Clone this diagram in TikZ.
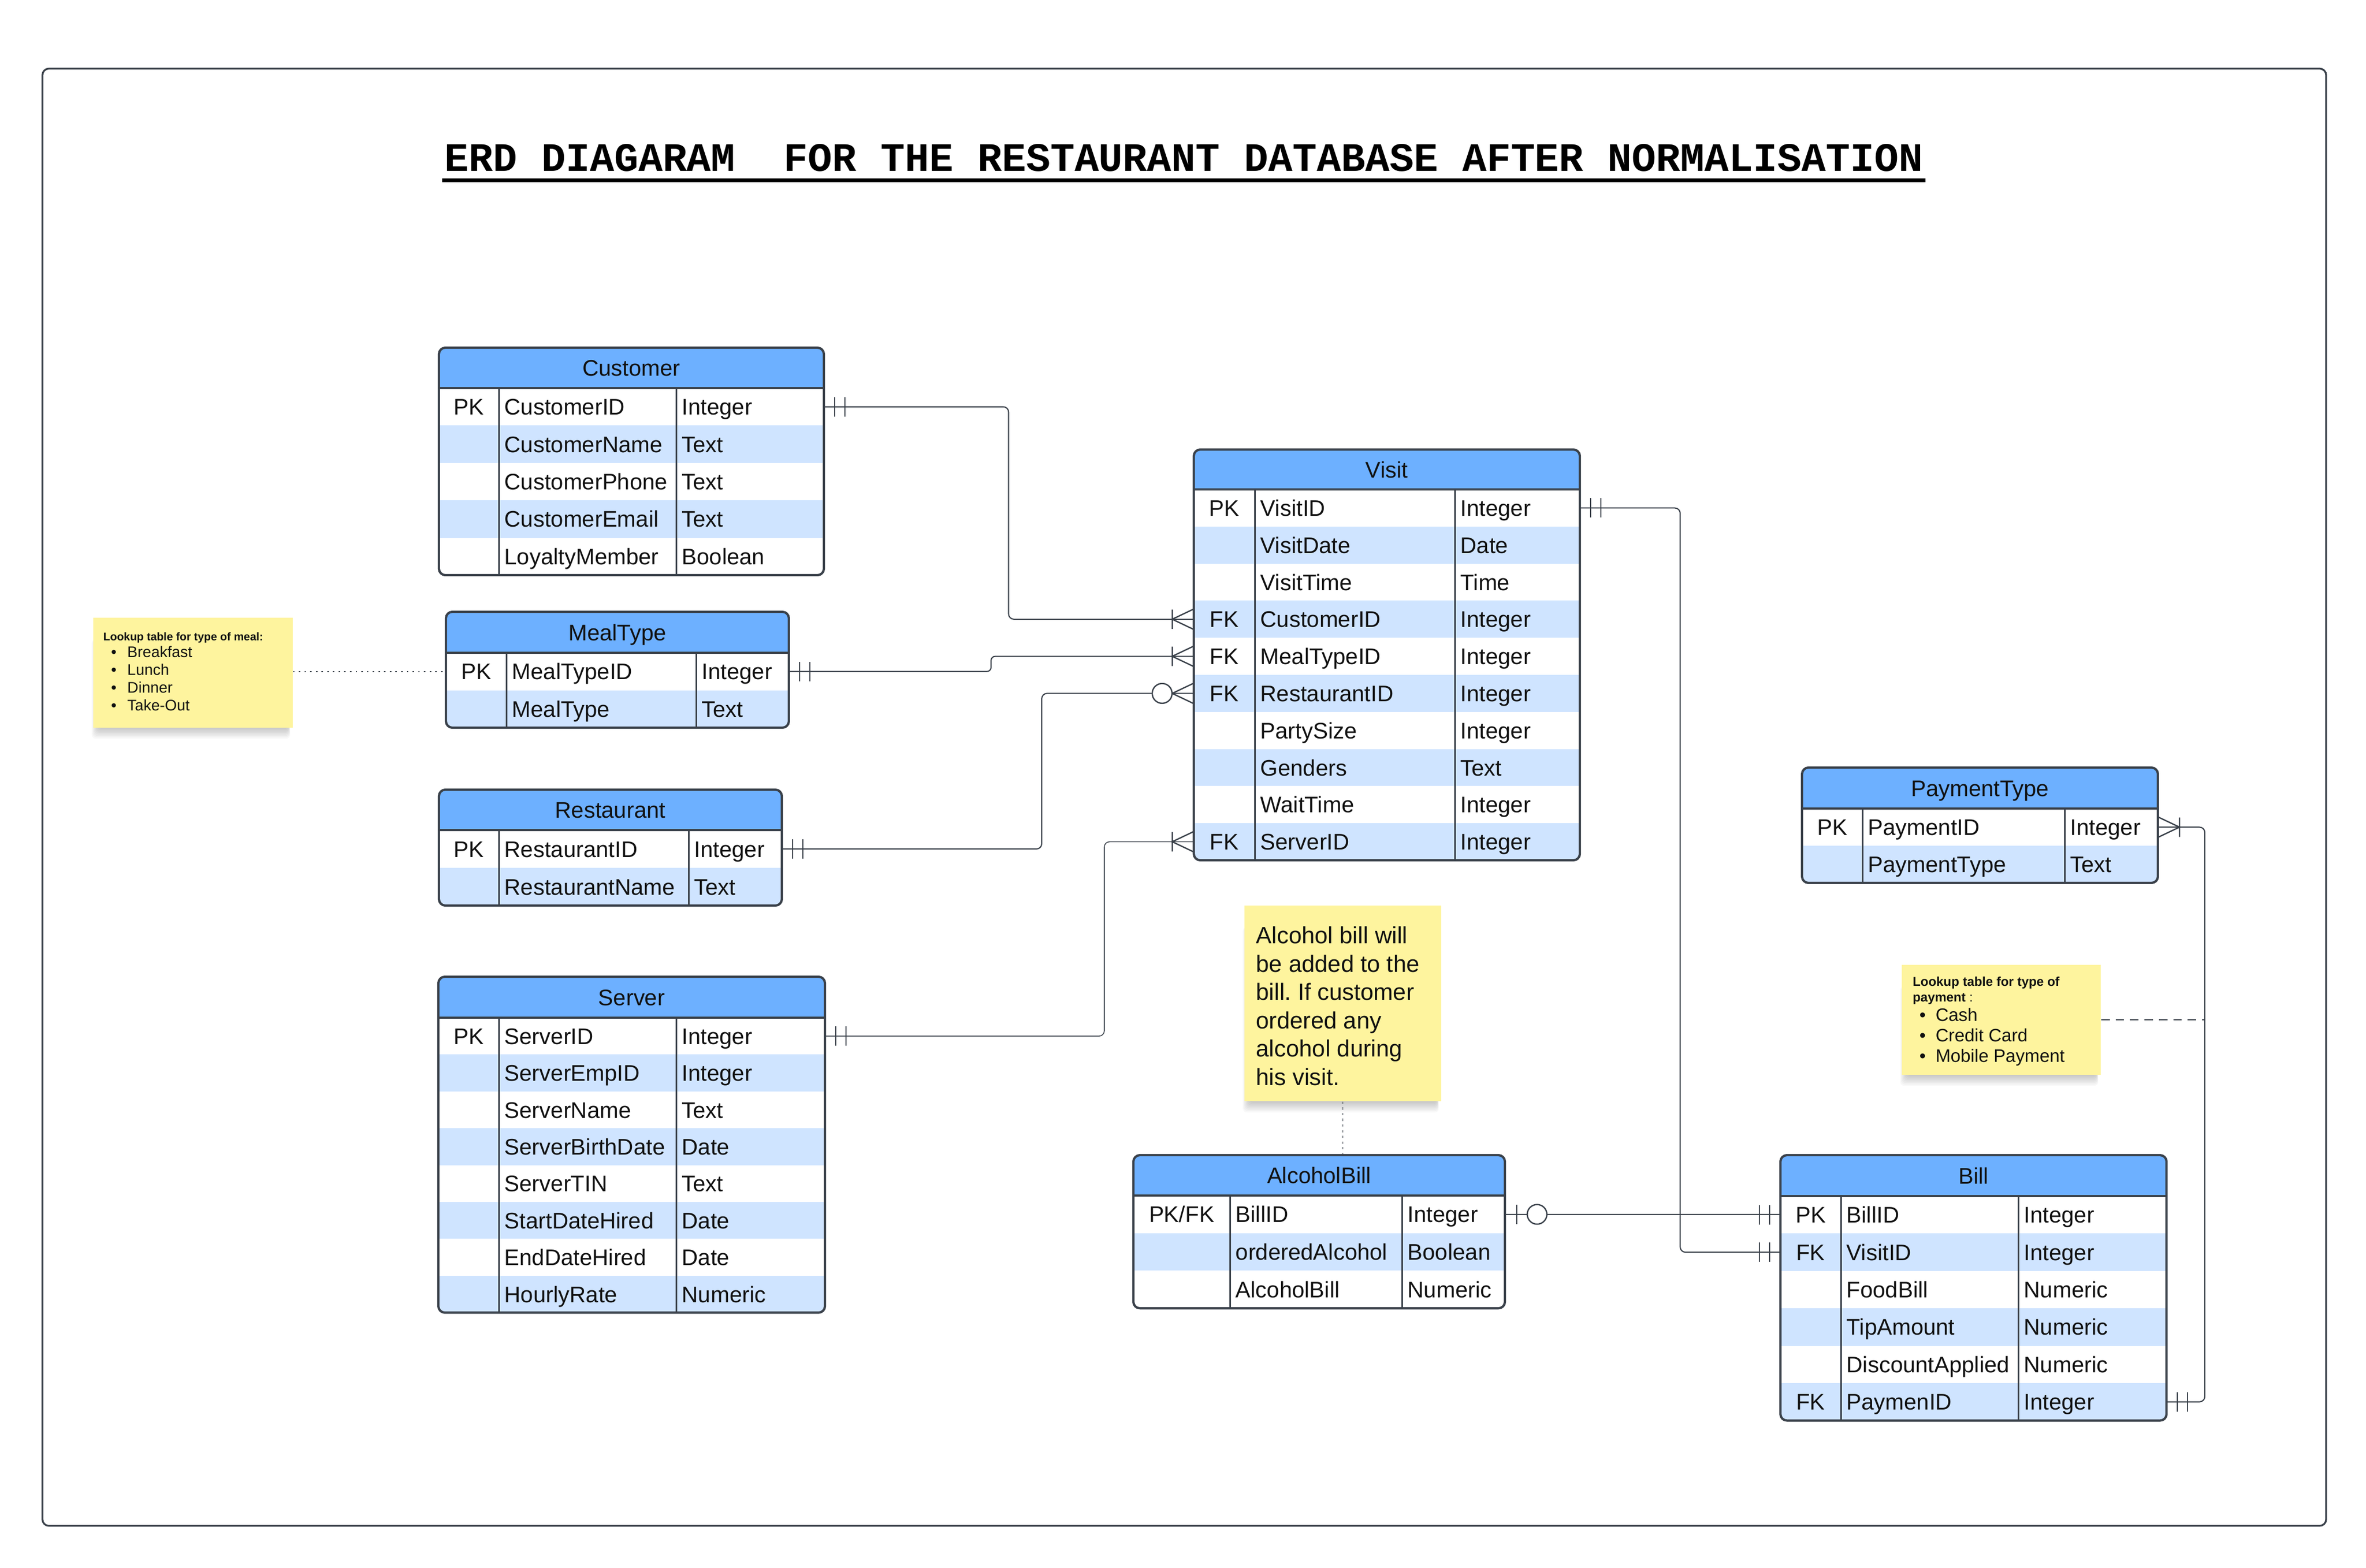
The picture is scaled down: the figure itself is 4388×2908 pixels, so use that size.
\documentclass[tikz,border=0pt]{standalone}
\usepackage{fontspec}
\setmainfont{Liberation Sans}
\newfontfamily\monofont{Liberation Mono}
\usetikzlibrary{calc}
\frenchspacing
\definecolor{hdr}{HTML}{6DB0FF}
\definecolor{alt}{HTML}{CFE4FF}
\definecolor{ink}{HTML}{3A414A}
\definecolor{notey}{HTML}{FEF49E}
\definecolor{txt}{HTML}{111111}
\newcommand\PKFK{PK/FK}
\tikzset{
  celltxt/.style={inner sep=0pt, anchor=base west, text=txt, font=\fontsize{11.9}{14}\selectfont},
  keytxt/.style={inner sep=0pt, anchor=base, text=txt, font=\fontsize{11.9}{14}\selectfont},
  hdrtxt/.style={inner sep=0pt, anchor=base, text=txt, font=\fontsize{11.9}{14}\selectfont},
  tblborder/.style={draw=ink, line width=1.2pt},
  coldiv/.style={draw=ink, line width=0.85pt},
  conn/.style={draw=ink, line width=0.6pt, rounded corners=2.8pt},
  mk/.style={draw=ink, line width=0.7pt},
  notebox/.style={fill=notey, inner sep=0pt, draw=none},
  noteheadA/.style={inner sep=0pt, anchor=base west, text=txt, font=\bfseries\fontsize{5.9}{7}\selectfont},
  noteitemA/.style={inner sep=0pt, anchor=base west, text=txt, font=\fontsize{8.1}{9.5}\selectfont},
  notebulA/.style={inner sep=0pt, anchor=base, text=txt, font=\fontsize{8.1}{9.5}\selectfont},
  noteheadB/.style={inner sep=0pt, anchor=base west, text=txt, font=\bfseries\fontsize{6.8}{8}\selectfont},
  noteitemB/.style={inner sep=0pt, anchor=base west, text=txt, font=\fontsize{9.5}{11}\selectfont},
  notebulB/.style={inner sep=0pt, anchor=base, text=txt, font=\fontsize{9.5}{11}\selectfont},
  notelineC/.style={inner sep=0pt, anchor=base west, text=txt, font=\fontsize{12.4}{15}\selectfont},
  notelink/.style={draw=ink, line width=0.5pt},
}
% #1 name/title, #2 x0, #3 x1, #4 x2, #5 x3, #6 ytop, #7 yhead, #8 row height, #9 rows
\newcommand\erdtable[9]{%
  \foreach \rr [count=\i] in {#9} {\xdef\nrows{\i}}%
  \pgfmathsetmacro\ybot{#7+\nrows*#8}%
  \begin{scope}
    \clip[rounded corners=3.4pt] (#2,#6) rectangle (#5,\ybot);
    \fill[white] (#2,#6) rectangle (#5,\ybot);
    \fill[hdr] (#2,#6) rectangle (#5,#7);
    \foreach \rr [count=\i] in {#9} {%
      \pgfmathsetmacro\ya{#7+(\i-1)*#8}%
      \pgfmathsetmacro\yb{#7+\i*#8}%
      \ifodd\i\else\fill[alt] (#2,\ya) rectangle (#5,\yb);\fi
    }
  \end{scope}
  \draw[coldiv] (#3,#7) -- (#3,\ybot) (#4,#7) -- (#4,\ybot);
  \draw[tblborder] (#2,#7) -- (#5,#7);
  \draw[tblborder, rounded corners=3.4pt] (#2,#6) rectangle (#5,\ybot);
  \node[hdrtxt] (#1) at ({(#2+#5)/2},{(#6+#7)/2+15}) {#1};
  \coordinate (#1-top) at ({(#2+#5)/2},#6);
  \foreach \ka/\kb/\kc [count=\i] in {#9} {%
    \pgfmathsetmacro\yc{#7+(\i-0.5)*#8}%
    \node[keytxt] (#1-k\i) at ({(#2+#3)/2},\yc+15) {\ka};
    \node[celltxt] (#1-n\i) at (#3+10,\yc+15) {\kb};
    \node[celltxt] (#1-t\i) at (#4+10,\yc+15) {\kc};
    \coordinate (#1-L\i) at (#2,\yc);
    \coordinate (#1-R\i) at (#5,\yc);
  }
}
% cardinality markers: #1 end coordinate, #2 direction (+1 right of point, -1 left)
\newcommand\mandone[2]{%
  \draw[mk] ($(#1)+(#2*20,-18)$) -- ++(0,36) ($(#1)+(#2*39,-18)$) -- ++(0,36);}
\newcommand\crowmany[2]{%
  \draw[mk] ($(#1)+(0,-19)$) -- ($(#1)+(#2*40,0)$) -- ($(#1)+(0,19)$)
            ($(#1)+(#2*40,-18)$) -- ++(0,36);}
\newcommand\zeromany[2]{%
  \draw[mk] ($(#1)+(0,-19)$) -- ($(#1)+(#2*40,0)$) -- ($(#1)+(0,19)$);
  \draw[mk, fill=white] ($(#1)+(#2*58.7,0)$) circle[radius=18.4];}
\newcommand\zeroone[2]{%
  \draw[mk] ($(#1)+(#2*22,-18)$) -- ++(0,36);
  \draw[mk, fill=white] ($(#1)+(#2*59.6,0)$) circle[radius=18.2];}
\newcommand\noteshadow[4]{%
  \foreach \s in {1,...,8}{\fill[black,opacity=0.028,rounded corners=2pt] ({#1+10-1.6*\s},{#2+40}) rectangle ({#3-8+0.4*\s},{#4+2.6*\s});}}

\begin{document}
\begin{tikzpicture}[x=0.01cm,y=-0.01cm]
\useasboundingbox (0,0) rectangle (4388,2908);
\fill[white] (0,0) rectangle (4388,2908);
% frame
\draw[ink, line width=0.95pt, rounded corners=3.4pt] (78.7,127.3) rectangle (4314,2830.7);
% title
\node[inner sep=0pt, anchor=base, text=black, font=\monofont\bfseries\fontsize{21.3}{25}\selectfont] (title) at (2195.5,317) {ERD DIAGARAM\ \ FOR THE RESTAURANT DATABASE AFTER NORMALISATION};
\fill[black] (820,331) rectangle (3571,338);

% tables
\erdtable{Customer}{814}{925}{1254}{1528}{645}{720}{69.4}{PK/CustomerID/Integer,/CustomerName/Text,/CustomerPhone/Text,/CustomerEmail/Text,/LoyaltyMember/Boolean}
\erdtable{MealType}{827}{939}{1291}{1463}{1135}{1211}{69.5}{PK/MealTypeID/Integer,/MealType/Text}
\erdtable{Restaurant}{814}{925}{1277}{1450}{1465}{1540}{70}{PK/RestaurantID/Integer,/RestaurantName/Text}
\erdtable{Server}{813}{925}{1254}{1530}{1812}{1888}{68.4}{PK/ServerID/Integer,/ServerEmpID/Integer,/ServerName/Text,/ServerBirthDate/Date,/ServerTIN/Text,/StartDateHired/Date,/EndDateHired/Date,/HourlyRate/Numeric}
\erdtable{Visit}{2214}{2327}{2698}{2930}{834}{908}{68.8}{PK/VisitID/Integer,/VisitDate/Date,/VisitTime/Time,FK/CustomerID/Integer,FK/MealTypeID/Integer,FK/RestaurantID/Integer,/PartySize/Integer,/Genders/Text,/WaitTime/Integer,FK/ServerID/Integer}
\erdtable{PaymentType}{3342}{3454}{3829}{4002}{1424}{1500}{69}{PK/PaymentID/Integer,/PaymentType/Text}
\erdtable{AlcoholBill}{2102}{2281}{2600}{2791}{2143}{2218}{69.7}{\PKFK/BillID/Integer,/orderedAlcohol/Boolean,/AlcoholBill/Numeric}
\erdtable{Bill}{3302}{3414}{3743}{4018}{2143}{2219}{69.4}{PK/BillID/Integer,FK/VisitID/Integer,/FoodBill/Numeric,/TipAmount/Numeric,/DiscountApplied/Numeric,FK/PaymenID/Integer}

% bend coordinates
\coordinate (b1) at (1870.5,0);
\coordinate (b2) at (1838,0);
\coordinate (b3) at (1932,0);
\coordinate (b4) at (2048,0);
\coordinate (b5) at (3116,0);
\coordinate (b6) at (4089,0);

% connectors
\draw[conn] (Customer-R1) -- (Customer-R1 -| b1) -- (b1 |- Visit-L4) -- (Visit-L4);
\draw[conn, rounded corners=2.2pt] (MealType-R1) -- (MealType-R1 -| b2) -- (b2 |- Visit-L5) -- (Visit-L5);
\draw[conn] (Restaurant-R1) -- (Restaurant-R1 -| b3) -- (b3 |- Visit-L6) -- (Visit-L6);
\draw[conn, line width=0.45pt] (Server-R1) -- (Server-R1 -| b4) -- (b4 |- Visit-L10) -- (Visit-L10);
\draw[conn] (Visit-R1) -- (Visit-R1 -| b5) -- (b5 |- Bill-L2) -- (Bill-L2);
\draw[conn] (AlcoholBill-R1) -- (AlcoholBill-R1 -| Bill-L1);
\draw[conn] (PaymentType-R1) -- (PaymentType-R1 -| b6) -- (b6 |- Bill-R6) -- (Bill-R6);

% markers
\mandone{Customer-R1}{1} \crowmany{Visit-L4}{-1}
\mandone{MealType-R1}{1} \crowmany{Visit-L5}{-1}
\mandone{Restaurant-R1}{1} \zeromany{Visit-L6}{-1}
\mandone{Server-R1}{1} \crowmany{Visit-L10}{-1}
\mandone{Visit-R1}{1} \mandone{Bill-L2}{-1}
\zeroone{AlcoholBill-R1}{1} \mandone{Bill-L1}{-1}
\crowmany{PaymentType-R1}{1} \mandone{Bill-R6}{1}

% note 1 (meal types)
\noteshadow{173}{1146}{542.7}{1349.5}
\node[notebox, minimum width=3.697cm, minimum height=2.035cm] (note1) at (357.85,1247.75) {};
\node[noteheadA] (note1h) at (191,1188) {Lookup table for type of meal:};
\foreach \txt [count=\j] in {Breakfast,Lunch,Dinner,Take-Out} {
  \pgfmathsetmacro\yy{1219.4+(\j-1)*33}
  \node[notebulA] (note1b\j) at (211,\yy) {•};
  \node[noteitemA] (note1i\j) at (235.5,\yy) {\txt};
}
\draw[notelink, dash pattern=on 0.8pt off 2.2pt] (note1.east |- MealType-L1) -- (MealType-L1);

% note 2 (payment types)
\noteshadow{3527}{1790}{3896}{1993.6}
\node[notebox, minimum width=3.69cm, minimum height=2.036cm] (note2) at (3711.5,1891.8) {};
\node[noteheadB] (note2h) at (3546.6,1829) {Lookup table for type of};
\node[noteheadB] (note2g) at (3546.6,1858) {payment\mdseries\ :};
\foreach \txt [count=\j] in {Cash,Credit Card,Mobile Payment} {
  \pgfmathsetmacro\yy{1894+(\j-1)*38}
  \node[notebulB] (note2b\j) at (3565.6,\yy) {•};
  \node[noteitemB] (note2i\j) at (3589,\yy) {\txt};
}
\draw[notelink, dash pattern=on 4.5pt off 3.1pt] (note2.east) -- (note2.east -| b6);

% note 3 (alcohol)
\noteshadow{2308}{1679.6}{2673}{2043}
\node[notebox, minimum width=3.65cm, minimum height=3.634cm] (note3) at (2490.5,1861.3) {};
\foreach \txt [count=\j] in {Alcohol bill will,be added to the,bill. If customer,ordered any,alcohol during,his visit.} {
  \pgfmathsetmacro\yy{1750.5+(\j-1)*52.5}
  \node[notelineC] (note3l\j) at (2328.8,\yy) {\txt};
}
\draw[notelink, dash pattern=on 1.2pt off 1.8pt] (note3.south) -- (note3.south |- AlcoholBill-top);
\end{tikzpicture}
\end{document}
